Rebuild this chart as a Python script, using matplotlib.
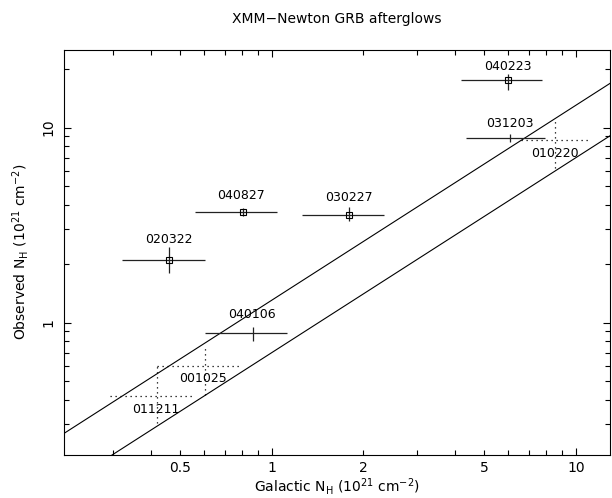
import matplotlib.pyplot as plt
from matplotlib.ticker import LogLocator, FuncFormatter, NullFormatter
import numpy as np

# Afterglow column densities (10^21 cm^-2): galactic x, observed y, with error ranges
grb_names = ['040223', '031203', '040827', '030227', '020322', '040106']
gal_nh = [5.97, 6.1, 0.806, 1.80, 0.46, 0.868]
gal_lo = [4.19, 4.34, 0.561, 1.26, 0.321, 0.604]
gal_hi = [7.77, 7.94, 1.045, 2.35, 0.604, 1.125]
obs_nh = [17.6, 8.85, 3.69, 3.58, 2.09, 0.879]
obs_lo = [15.5, 8.47, 3.52, 3.30, 1.79, 0.80]
obs_hi = [18.8, 9.25, 3.85, 3.90, 2.43, 0.954]
has_box = [True, False, True, True, True, False]

# bursts with no excess absorption detected (dotted)
ul_names = ['010220', '001025', '011211']
ul_gal = [8.55, 0.604, 0.421]
ul_gal_lo = [6.6, 0.421, 0.294]
ul_gal_hi = [11.06, 0.787, 0.546]
ul_obs = [8.62, 0.597, 0.421]
ul_obs_lo = [6.2, 0.423, 0.305]
ul_obs_hi = [10.9, 0.753, 0.597]

# label anchor points (data coords)
lab_pos = {
    '040223': (5.97, 20.5), '031203': (6.07, 10.5), '010220': (8.55, 7.35),
    '040827': (0.791, 4.47), '030227': (1.80, 4.37), '020322': (0.46, 2.67),
    '040106': (0.86, 1.095), '001025': (0.593, 0.519), '011211': (0.417, 0.36),
}

# band of +/-30% around equality
band_factors = [1.3, 0.7]

xlim = (0.2077, 12.95)
ylim = (0.21, 25.0)

fig = plt.figure(figsize=(6.12, 4.98), dpi=100)
ax = fig.add_axes([0.1046, 0.087, 0.892, 0.8127])

xl = np.array(xlim)
for f in band_factors:
    ax.plot(xl, f * xl, color='black', lw=0.8)

for i in range(len(grb_names)):
    x, y = gal_nh[i], obs_nh[i]
    ax.errorbar(x, y, xerr=[[x - gal_lo[i]], [gal_hi[i] - x]],
                yerr=[[y - obs_lo[i]], [obs_hi[i] - y]],
                fmt='none', ecolor='#222222', elinewidth=0.9, capsize=0)
    if has_box[i]:
        ax.plot(x, y, marker='s', ms=4.6, mfc='none', mec='black', mew=0.8)

for i in range(len(ul_names)):
    x, y = ul_gal[i], ul_obs[i]
    ax.plot([ul_gal_lo[i], ul_gal_hi[i]], [y, y], color='black', lw=0.9, ls=(0, (1, 3)))
    ax.plot([x, x], [ul_obs_lo[i], ul_obs_hi[i]], color='black', lw=0.9, ls=(0, (1, 3)))

for name, (lx, ly) in lab_pos.items():
    ax.text(lx, ly, name, ha='center', va='center', fontsize=9)

ax.set_xscale('log')
ax.set_yscale('log')
ax.set_xlim(xlim)
ax.set_ylim(ylim)

ax.xaxis.set_major_locator(LogLocator(base=10, numticks=10))
ax.xaxis.set_minor_locator(LogLocator(base=10, subs=np.arange(2, 10), numticks=10))
ax.yaxis.set_major_locator(LogLocator(base=10, numticks=10))
ax.yaxis.set_minor_locator(LogLocator(base=10, subs=np.arange(2, 10), numticks=10))


def fmt_major(v, pos):
    return '%g' % v


def fmt_minor_x(v, pos):
    for t in (0.5, 2, 5):
        if abs(v - t) < 1e-6 * t:
            return '%g' % t
    return ''


ax.xaxis.set_major_formatter(FuncFormatter(fmt_major))
ax.xaxis.set_minor_formatter(FuncFormatter(fmt_minor_x))
ax.yaxis.set_major_formatter(FuncFormatter(fmt_major))
ax.yaxis.set_minor_formatter(NullFormatter())

ax.tick_params(which='both', direction='in', top=True, right=True, labelsize=10)
ax.tick_params(axis='x', which='both', pad=4.5)
ax.tick_params(axis='y', which='both', pad=6)
ax.tick_params(which='major', length=5.3, width=0.8)
ax.tick_params(which='minor', length=3.3, width=0.8)
ax.tick_params(axis='y', which='major', labelrotation=90)
for lab in ax.get_yticklabels():
    lab.set_va('center')
for s in ax.spines.values():
    s.set_linewidth(0.8)

ax.set_xlabel(r'Galactic N$_{\rm H}$ (10$^{21}$ cm$^{-2}$)', fontsize=10, labelpad=0.5)
ax.set_ylabel(r'Observed N$_{\rm H}$ (10$^{21}$ cm$^{-2}$)', fontsize=10, labelpad=8)
fig.text(337 / 612, 1 - 19 / 498, 'XMM\u2212Newton GRB afterglows', ha='center', va='center', fontsize=10)

fig.savefig('out.png', dpi=100)
